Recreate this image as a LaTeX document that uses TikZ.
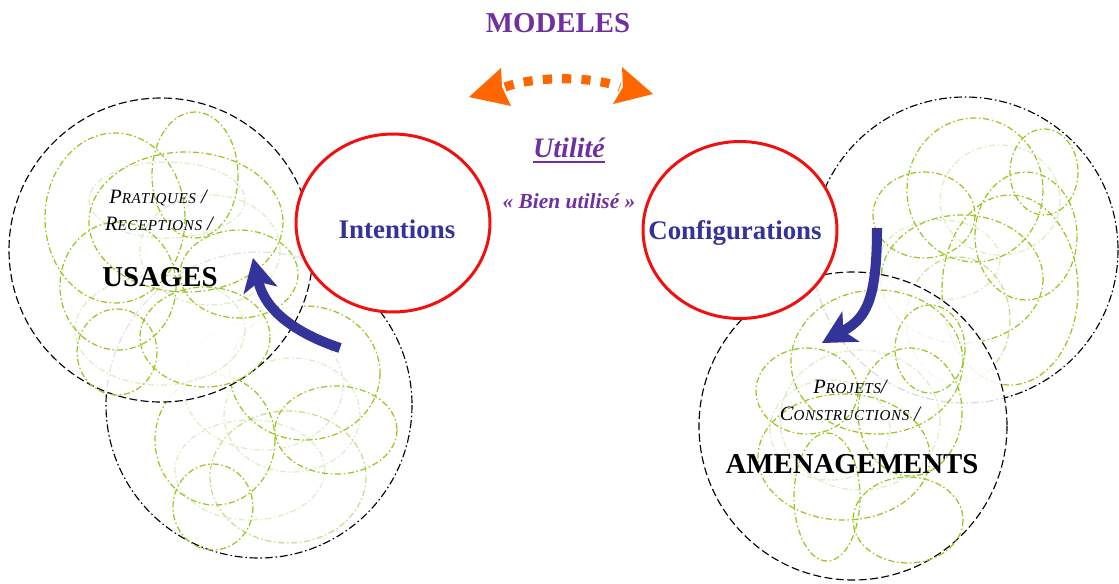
\documentclass[tikz,border=0pt]{standalone}
\usepackage{fontspec}
\setmainfont{Liberation Serif}
\newfontfamily\scf[LetterSpace=4]{Liberation Serif}
\usetikzlibrary{arrows.meta,shapes.geometric}
\definecolor{purp}{RGB}{112,48,160}
\definecolor{ublue}{RGB}{51,51,153}
\definecolor{orng}{RGB}{255,102,0}
\definecolor{rred}{RGB}{240,16,16}
\definecolor{gbright}{RGB}{150,200,35}
\definecolor{gmed}{RGB}{196,222,140}
\definecolor{gfaint}{RGB}{222,236,200}
\newcommand\fsc[2]{{\fontsize{11.6}{13}\selectfont #1}{\fontsize{8.6}{10}\selectfont #2}}
\newcommand\bigsl{{\fontsize{11.6}{13}\selectfont /}}
\begin{document}
\begin{tikzpicture}[x=0.02cm,y=-0.02cm,
  bigdash/.style={line width=0.65pt,dash pattern=on 4.5pt off 2pt},
  bigdd/.style={line width=0.65pt,dash pattern=on 4.5pt off 1.6pt on 0.9pt off 1.6pt},
  gr/.style={line width=0.7pt,draw=gbright,dash pattern=on 3.5pt off 1.5pt on 0.9pt off 1.5pt},
  grm/.style={gr,draw=gmed},
  grf/.style={gr,draw=gfaint},
  redell/.style={draw=rred,line width=1.7pt,fill=white,ellipse,inner sep=0pt},
  txt/.style={anchor=base,inner sep=0pt},
  bluearrow/.style={draw=ublue,line width=5.7pt,-{Stealth[length=19pt,width=20pt,inset=5pt,line width=0pt]}},
  dots/.style={draw=orng,line width=5.2pt,dash pattern=on 5.2pt off 5.8pt}
]
\useasboundingbox (0,0) rectangle (1119,583);

% ---------- left lower group ----------
\draw[bigdd] (259,405) circle [radius=153];
\draw[grf] (263,385) ellipse [x radius=80, y radius=65];
\draw[grf] (292,415) ellipse [x radius=68, y radius=57];
\draw[grf] (250,470) ellipse [x radius=75, y radius=50];
\draw[grm] (288,477) ellipse [x radius=78, y radius=66];
\draw[gr] (305,373) ellipse [x radius=75, y radius=67];
\draw[gr] (336,430) ellipse [x radius=61, y radius=44];
\draw[gr] (215,440) ellipse [x radius=60, y radius=65];
\draw[gr] (213,507) ellipse [x radius=40, y radius=43];

% ---------- left upper group (USAGES) ----------
\draw[bigdash,fill=white,fill opacity=0.88] (161,250) circle [radius=152];
\draw[grf] (167,200) ellipse [x radius=78, y radius=38];
\draw[grf] (210,250) ellipse [x radius=70, y radius=55];
\draw[grf] (160,330) ellipse [x radius=85, y radius=55];
\draw[gr] (115,218) ellipse [x radius=70, y radius=85];
\draw[gr] (195,175) ellipse [x radius=43, y radius=63];
\draw[gr] (186,222) ellipse [x radius=97, y radius=70];
\draw[gr] (118,286) ellipse [x radius=58, y radius=64];
\draw[gr] (239,274) ellipse [x radius=59, y radius=44];
\draw[gr] (117,352) ellipse [x radius=40, y radius=43];
\draw[gr] (205,337) ellipse [x radius=65, y radius=50];

% ---------- right upper group ----------
\draw[bigdd] (965,250) circle [radius=153];
\draw[grf] (1000,200) ellipse [x radius=60, y radius=55];
\draw[grf] (940,260) ellipse [x radius=60, y radius=40];
\draw[grm] (958,320) ellipse [x radius=52, y radius=63];
\draw[gr] (975,190) ellipse [x radius=68, y radius=72];
\draw[gr] (1044,172) ellipse [x radius=34, y radius=43];
\draw[gr] (924,215) ellipse [x radius=51, y radius=43];
\draw[gr] (1026,236) ellipse [x radius=51, y radius=64];
\draw[gr] (962,279) ellipse [x radius=81, y radius=64];
\draw[gr] (1010,290) ellipse [x radius=68, y radius=95];

% ---------- right lower group (AMENAGEMENTS) ----------
\draw[bigdash,fill=white,fill opacity=0.85] (853,426) circle [radius=154];
\draw[grf] (860,420) ellipse [x radius=80, y radius=70];
\draw[grf] (830,430) ellipse [x radius=60, y radius=50];
\draw[gr] (877,362) ellipse [x radius=86, y radius=72];
\draw[gr] (930,349) ellipse [x radius=35, y radius=44];
\draw[gr] (807,391) ellipse [x radius=51, y radius=43];
\draw[gr] (910,412) ellipse [x radius=52, y radius=64];
\draw[gr] (844,457) ellipse [x radius=86, y radius=63];
\draw[gr] (827,497) ellipse [x radius=33, y radius=64];
\draw[gr] (908,520) ellipse [x radius=55, y radius=43];

% ---------- red ellipses ----------
\node[redell,minimum width=3.88cm,minimum height=3.56cm] (intent) at (393,223) {};
\node[redell,minimum width=3.88cm,minimum height=3.54cm] (config) at (740,230) {};

% ---------- texts ----------
\node[txt,text=purp,font=\fontsize{16.4}{18}\selectfont\bfseries] (modeles) at (558,32) {MODELES};
\node[txt,text=purp,font=\fontsize{16}{18}\selectfont\bfseries\itshape] (util) at (569,157) {Utilité};
\draw[purp,line width=0.85pt] ([yshift=-2.8pt]util.base west) -- ([yshift=-2.8pt]util.base east);
\node[txt,text=purp,font=\fontsize{12.2}{14}\selectfont\bfseries\itshape] (bien) at (569,208) {«~Bien utilisé~»};
\node[txt,text=ublue,font=\fontsize{15.3}{17}\selectfont\bfseries] (intlab) at (397,238) {Intentions};
\node[txt,text=ublue,font=\fontsize{15.3}{17}\selectfont\bfseries] (conflab) at (735,239) {Configurations};

\node[txt,font=\scf\itshape] (prat) at (158,203) {\fsc{P}{RATIQUES} \bigsl};
\node[txt,font=\scf\itshape] (recep) at (159,230) {\fsc{R}{ECEPTIONS} \bigsl};
\node[txt,font=\fontsize{16.4}{18}\selectfont\bfseries] (usages) at (160,286) {USAGES};

\node[txt,font=\scf\itshape] (proj) at (850,393) {\fsc{P}{ROJETS}\bigsl};
\node[txt,font=\scf\itshape] (constr) at (850,420) {\fsc{C}{ONSTRUCTIONS} \bigsl};
\node[txt,font=\fontsize{16.4}{18}\selectfont\bfseries] (amen) at (852,473) {AMENAGEMENTS};

% ---------- blue arrows ----------
\coordinate (la) at (340,348);
\coordinate (lb) at (253,258);
\draw[bluearrow] (la) .. controls (295,333) and (265,310) .. (lb);
\coordinate (ra) at (877,228);
\coordinate (rb) at (822,343);
\draw[bluearrow] (ra) .. controls (877,300) and (866,318) .. (rb);

% ---------- orange double arrow ----------
\coordinate (oa) at (505,87);
\coordinate (ob) at (620,87);
\draw[dots] (oa) .. controls (535,76) and (592,76) .. (ob);
\fill[orng] (469,97) -- (501,68) -- (502,87) -- (511,106) -- cycle;
\fill[orng] (653,94) -- (622,67) -- (623,87) -- (613,104) -- cycle;
\end{tikzpicture}
\end{document}
